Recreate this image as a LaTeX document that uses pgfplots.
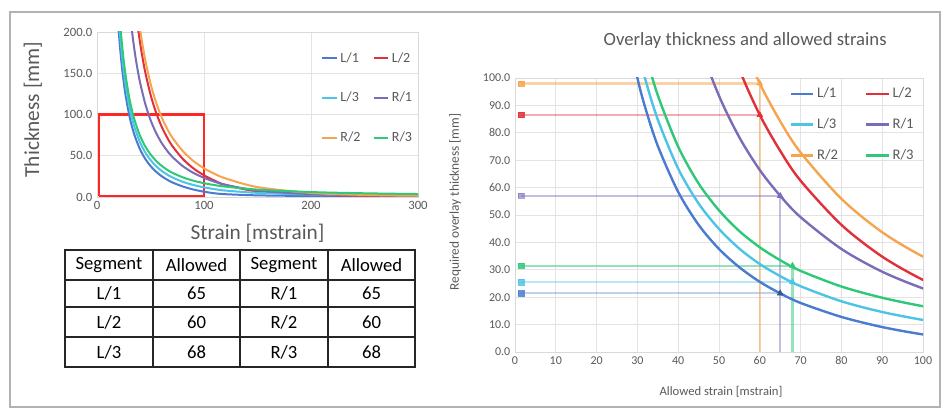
\documentclass[border=0pt]{standalone}
\usepackage{pgfplots}
\pgfplotsset{compat=1.18}
\usepackage{pgfplotstable}
\usepackage{fontspec}
\setmainfont{Carlito}

\definecolor{cLa}{HTML}{4A7BD0}
\definecolor{cLb}{HTML}{E0303A}
\definecolor{cLc}{HTML}{4DC3E6}
\definecolor{cRa}{HTML}{7A6CB8}
\definecolor{cRb}{HTML}{F5A550}
\definecolor{cRc}{HTML}{2DC878}
\definecolor{txt}{HTML}{595959}

% L/1
\pgfplotstableread{
x y
20 206.6
21 189.5
22 174.6
23 161.4
24 149.6
25 139.0
27 121.1
30 100.0
32 88.8
35 75.2
40 58.4
45 46.4
50 37.6
55 30.9
60 25.6
65 21.4
70 17.9
80 12.8
90 9.1
100 6.4
110 4.5
120 3.4
150 2.0
200 1.2
250 0.9
300 0.7
}\tLa
% L/2
\pgfplotstableread{
x y
38 208.1
40 189.3
42 172.9
45 151.9
50 124.2
55 103.1
60 86.5
65 73.4
70 62.5
80 46.4
90 34.8
100 26.3
110 19.8
120 14.7
150 6.8
200 3.0
250 1.5
300 1.0
}\tLb
% L/3
\pgfplotstableread{
x y
21 206.0
22 190.2
23 176.2
24 163.7
25 152.5
27 133.4
30 111.1
32 99.2
35 84.8
40 66.9
45 54.2
50 44.9
55 37.7
60 32.1
65 27.7
70 24.0
80 18.5
90 14.6
100 11.7
110 9.5
120 7.8
150 5.0
200 3.0
250 2.3
300 2.0
}\tLc
% R/1
\pgfplotstableread{
x y
32 208.7
33 197.8
35 178.2
37 161.5
40 140.3
45 113.4
50 93.5
55 78.3
60 66.4
65 57.0
70 49.2
80 37.6
90 29.3
100 23.2
110 18.5
120 14.8
150 8.0
200 3.5
250 2.2
300 1.6
}\tRa
% R/2
\pgfplotstableread{
x y
40 205.9
42 188.7
45 166.7
50 137.6
55 115.4
60 98.0
65 84.2
70 72.8
80 55.9
90 43.7
100 34.8
110 28.0
120 22.6
150 12.0
200 5.0
250 2.5
300 1.5
}\tRb
% R/3
\pgfplotstableread{
x y
22 204.9
23 190.1
24 176.9
25 165.1
27 145.0
30 121.4
32 108.9
35 93.7
40 74.9
45 61.5
50 51.7
55 44.1
60 38.2
65 33.5
70 29.6
80 23.9
90 19.8
100 16.7
110 14.4
120 12.6
150 9.0
200 6.0
250 4.5
300 3.6
}\tRc

\pgfplotsset{
  excelstyle/.style={
    scale only axis,
    /pgf/number format/assume math mode=true,
    grid=major,
    major grid style={gray!22, line width=0.6pt},
    axis line style={gray!30},
    major tick length=0pt,
    tick label style={text=txt},
    legend cell align=left,
  },
}

\begin{document}
\begin{tikzpicture}[x=0.75pt,y=0.75pt]
\path (0,0) rectangle (944,410);
\draw[gray!60, line width=0.9pt] (10,3) rectangle (940,398);
\coordinate (LA) at (97,213);
\coordinate (RA) at (515,58);

% ---------- left chart ----------
\begin{axis}[excelstyle,
  at={(LA)}, anchor=south west,
  width=240.75pt, height=123.75pt,
  xmin=0, xmax=300, ymin=0, ymax=200,
  xtick={0,100,200,300}, ytick={0,50,100,150,200},
  tick label style={font=\fontsize{9.5}{11}\selectfont},
  y tick label style={/pgf/number format/.cd, fixed, fixed zerofill, precision=1},
  xlabel={Strain [mstrain]},
  ylabel={Thickness [mm]},
  xlabel style={at={(axis description cs:0.5,-0.218)}, anchor=center, font=\fontsize{16}{18}\selectfont, text=txt},
  ylabel style={at={(axis description cs:-0.2,0.53)}, anchor=center, rotate=0, font=\fontsize{16}{18}\selectfont, text=txt},
  legend columns=2,
  legend style={at={(axis description cs:0.685,0.91)}, anchor=north west, draw=none, fill=none,
    font=\fontsize{10.5}{12}\selectfont, text=txt, row sep=17pt,
    /tikz/every even column/.append style={column sep=7pt}},
  legend image code/.code={\draw[#1] (0pt,0pt) -- (11pt,0pt);},
]
\addplot[red!85!white, line width=1.6pt, forget plot] coordinates {(2,1) (100,1) (100,100) (2,100) (2,1)};
\addplot[cLa, line width=1.5pt, smooth] table {\tLa}; \addlegendentry{L/1}
\addplot[cLb, line width=1.5pt, smooth] table {\tLb}; \addlegendentry{L/2}
\addplot[cLc, line width=1.5pt, smooth] table {\tLc}; \addlegendentry{L/3}
\addplot[cRa, line width=1.5pt, smooth] table {\tRa}; \addlegendentry{R/1}
\addplot[cRb, line width=1.5pt, smooth] table {\tRb}; \addlegendentry{R/2}
\addplot[cRc, line width=1.5pt, smooth] table {\tRc}; \addlegendentry{R/3}
\end{axis}

% ---------- table ----------
\begin{scope}[font=\fontsize{14}{16}\selectfont]
\draw[line width=1.5pt, black!85] (65,43) rectangle (415,160);
\foreach \xx in {153,240,328} \draw[line width=1.5pt, black!85] (\xx,43) -- (\xx,160);
\draw[line width=2.2pt, black!85] (65,130) -- (415,130);
\draw[line width=1.3pt, black!85] (65,103) -- (415,103);
\draw[line width=1.3pt, black!85] (65,73) -- (415,73);
\node at (109,145) {Segment};
\node at (196.5,145) {Allowed};
\node at (284,145) {Segment};
\node at (371.5,145) {Allowed};
\node at (109,116.5) {L/1}; \node at (196.5,116.5) {65}; \node at (284,116.5) {R/1}; \node at (371.5,116.5) {65};
\node at (109,88) {L/2};   \node at (196.5,88) {60};   \node at (284,88) {R/2};   \node at (371.5,88) {60};
\node at (109,58) {L/3};   \node at (196.5,58) {68};   \node at (284,58) {R/3};   \node at (371.5,58) {68};
\end{scope}

% ---------- right chart ----------
\begin{axis}[excelstyle,
  at={(RA)}, anchor=south west,
  width=306pt, height=205.5pt,
  xmin=0, xmax=100, ymin=0, ymax=100,
  xtick={0,10,...,100}, ytick={0,10,...,100},
  tick label style={font=\fontsize{9}{11}\selectfont},
  y tick label style={/pgf/number format/.cd, fixed, fixed zerofill, precision=1},
  title={Overlay thickness and allowed strains},
  title style={at={(axis description cs:0.564,1.109)}, anchor=center, font=\fontsize{14}{16}\selectfont, text=txt},
  xlabel={Allowed strain [mstrain]},
  ylabel={Required overlay thickness [mm]},
  xlabel style={at={(axis description cs:0.505,-0.146)}, anchor=center, font=\fontsize{9.5}{11}\selectfont, text=txt},
  ylabel style={at={(axis description cs:-0.147,0.547)}, anchor=center, font=\fontsize{10}{12}\selectfont, text=txt},
  legend columns=2,
  legend style={at={(axis description cs:0.662,0.985)}, anchor=north west, draw=none, fill=none,
    font=\fontsize{11}{13}\selectfont, text=txt, row sep=10pt,
    /tikz/every even column/.append style={column sep=18pt}},
  legend image code/.code={\draw[#1] (0pt,0pt) -- (17pt,0pt);},
]
% reference lines (horizontal for all, vertical for R series)
\addplot[cLb, opacity=0.4, line width=1.6pt, forget plot] coordinates {(1.5,86.5) (60,86.5)};
\addplot[cLc, opacity=0.4, line width=1.6pt, forget plot] coordinates {(1.5,25.5) (68,25.5)};
\addplot[cLa, opacity=0.35, line width=1.6pt, forget plot] coordinates {(1.5,21.4) (65,21.4)};
\addplot[cRb, opacity=0.5, line width=1.6pt, forget plot] coordinates {(1.5,98) (60,98) (60,0)};
\addplot[cRa, opacity=0.45, line width=1.6pt, forget plot] coordinates {(1.5,57) (65,57) (65,0)};
\addplot[cRc, opacity=0.5, line width=1.6pt, forget plot] coordinates {(1.5,31.5) (68,31.5) (68,0)};
% markers
\addplot[only marks, mark=square*, mark size=2pt, cRb, opacity=0.85, forget plot] coordinates {(1.5,98)};
\addplot[only marks, mark=square*, mark size=2pt, cLb, opacity=0.85, forget plot] coordinates {(1.5,86.5)};
\addplot[only marks, mark=square*, mark size=2pt, cRa, opacity=0.6, forget plot] coordinates {(1.5,57)};
\addplot[only marks, mark=square*, mark size=2pt, cRc, opacity=0.85, forget plot] coordinates {(1.5,31.5)};
\addplot[only marks, mark=square*, mark size=2pt, cLc, opacity=0.85, forget plot] coordinates {(1.5,25.5)};
\addplot[only marks, mark=square*, mark size=2pt, cLa, opacity=0.85, forget plot] coordinates {(1.5,21.4)};
\addplot[only marks, mark=triangle*, mark size=2.5pt, cRb, forget plot] coordinates {(60,98)};
\addplot[only marks, mark=triangle*, mark size=2.5pt, cLb, forget plot] coordinates {(60,86.5)};
\addplot[only marks, mark=triangle*, mark size=2.5pt, cRa, forget plot] coordinates {(65,57)};
\addplot[only marks, mark=triangle*, mark size=2.5pt, cRc, forget plot] coordinates {(68,31.5)};
\addplot[only marks, mark=triangle*, mark size=2.5pt, cLc, forget plot] coordinates {(68,25.5)};
\addplot[only marks, mark=triangle*, mark size=2.5pt, cLa!70!black, forget plot] coordinates {(65,21.4)};
% curves
\addplot[cLa, line width=1.8pt, smooth] table {\tLa}; \addlegendentry{L/1}
\addplot[cLb, line width=1.8pt, smooth] table {\tLb}; \addlegendentry{L/2}
\addplot[cLc, line width=1.8pt, smooth] table {\tLc}; \addlegendentry{L/3}
\addplot[cRa, line width=1.8pt, smooth] table {\tRa}; \addlegendentry{R/1}
\addplot[cRb, line width=1.8pt, smooth] table {\tRb}; \addlegendentry{R/2}
\addplot[cRc, line width=1.8pt, smooth] table {\tRc}; \addlegendentry{R/3}
\end{axis}
\end{tikzpicture}
\end{document}
